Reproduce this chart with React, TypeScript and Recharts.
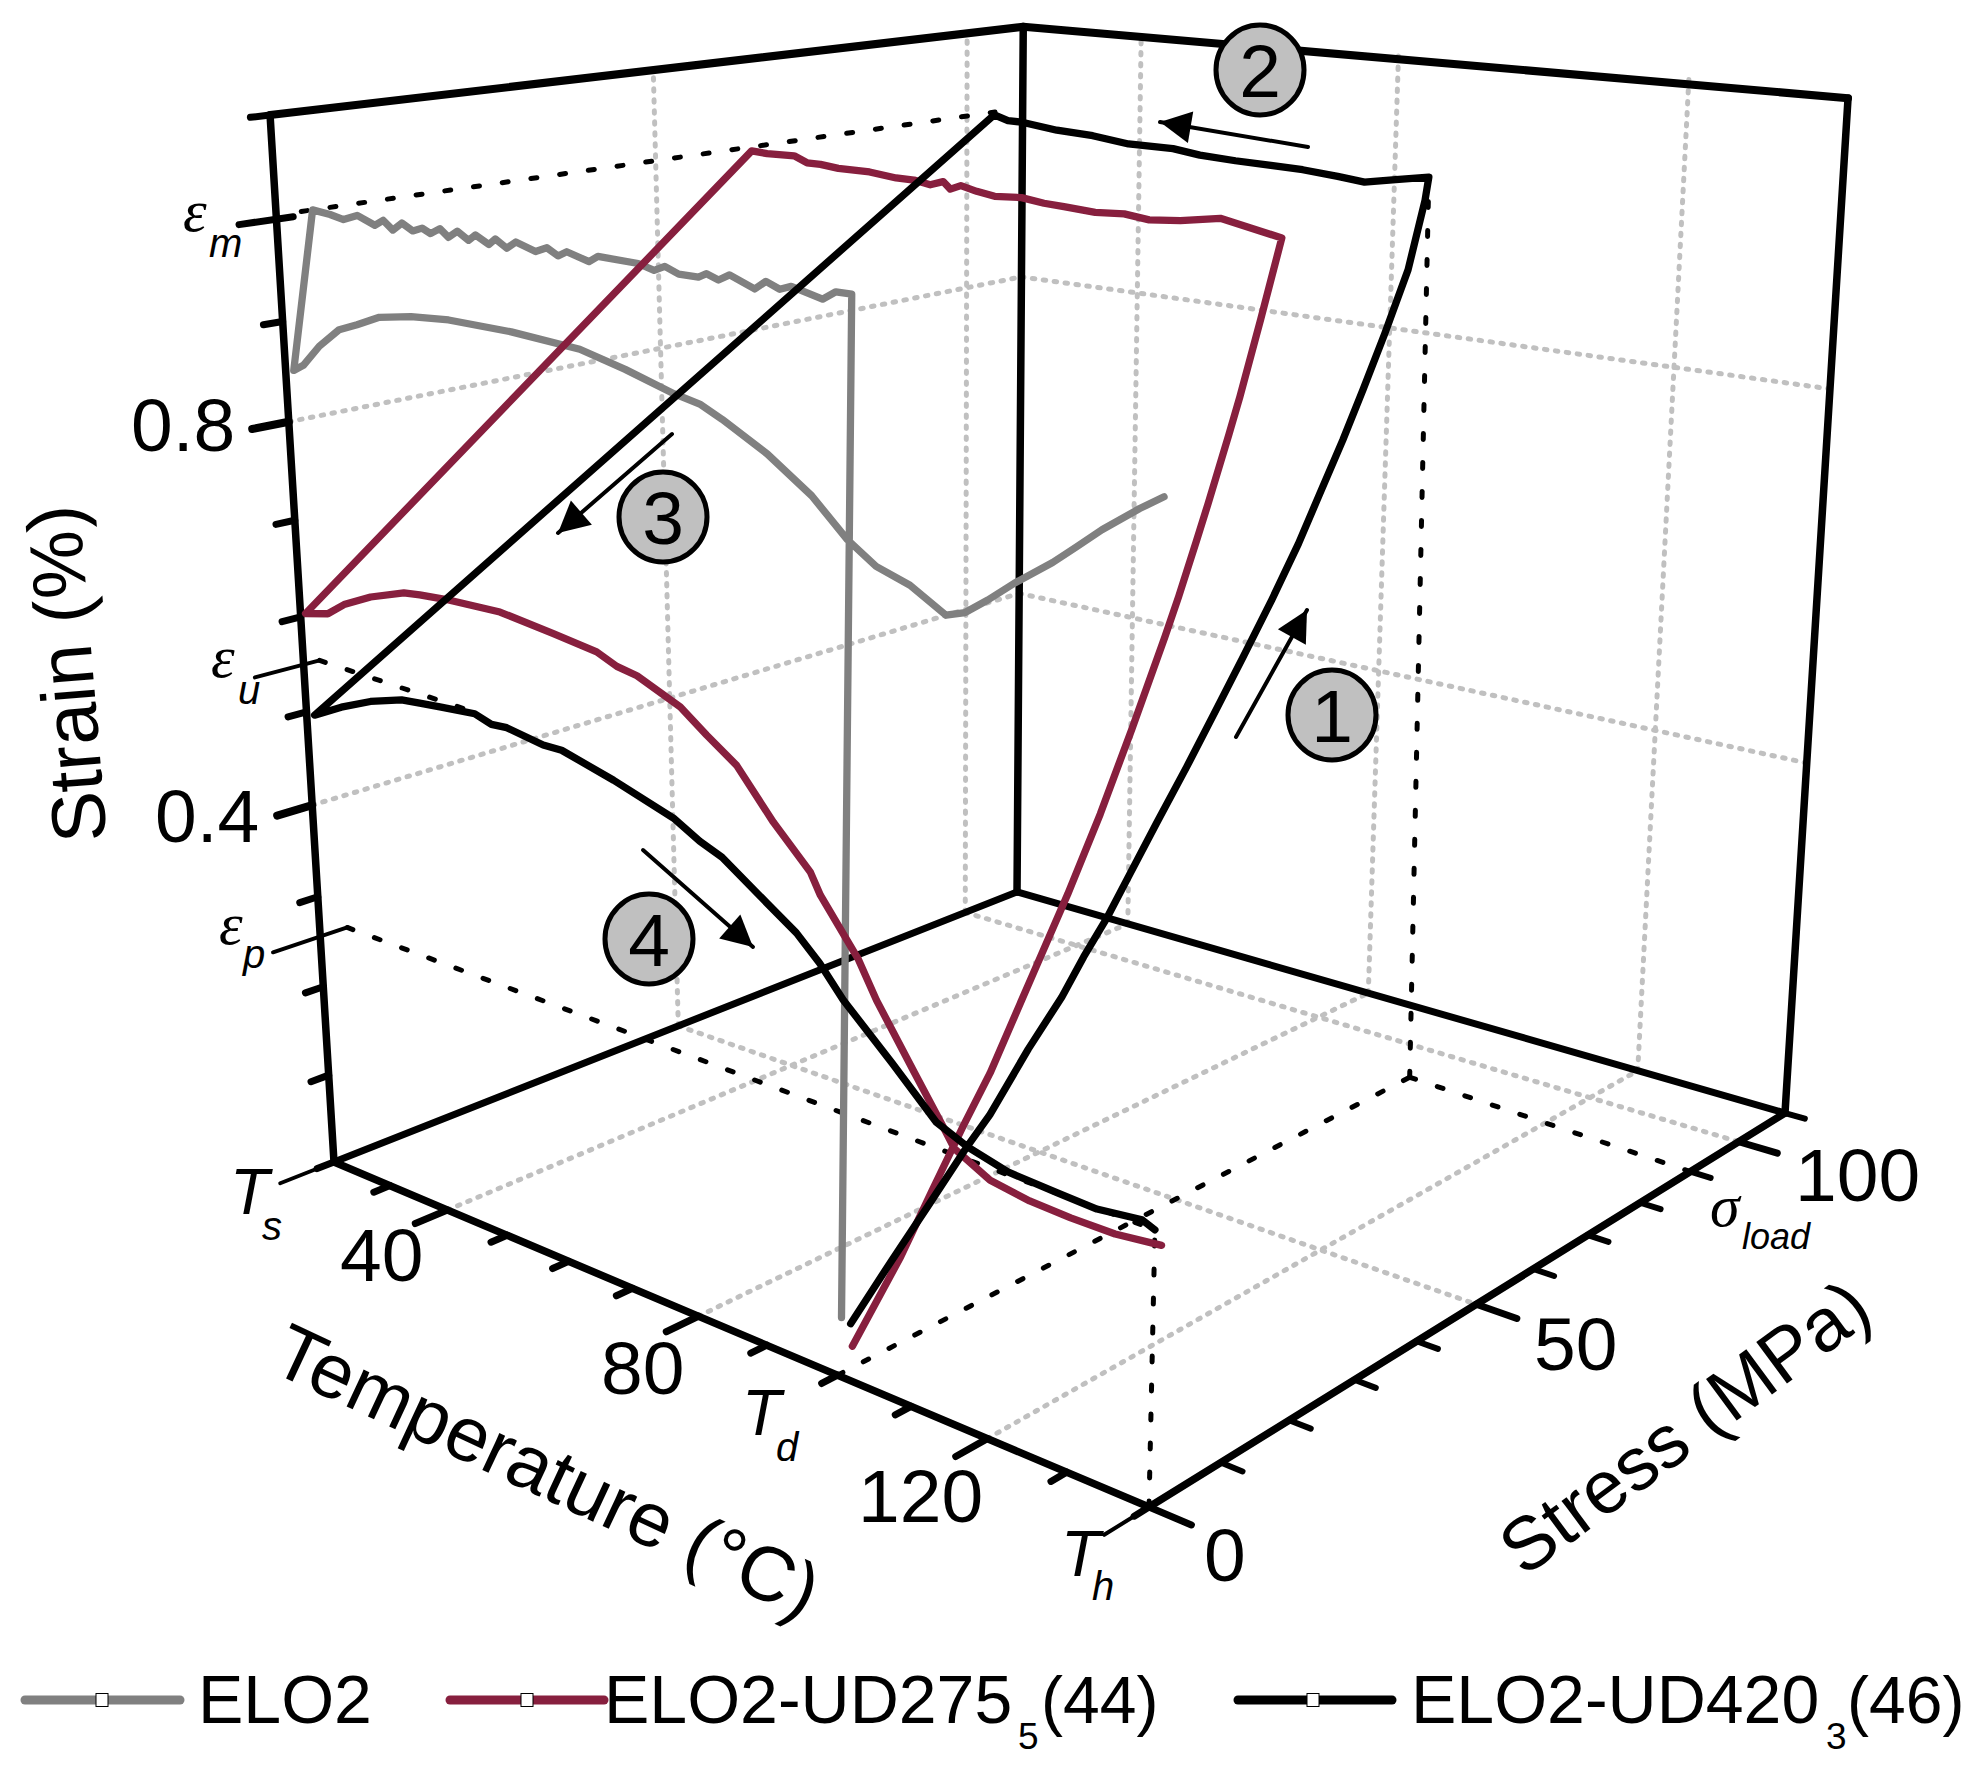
import React from 'react';
import { ScatterChart, Scatter, XAxis, YAxis } from 'recharts';

const W = 1978;
const H = 1765;
const FONT = '"Liberation Sans", Arial, sans-serif';
const SERIF = '"Liberation Serif", serif';

// every curve point is [temperature °C, stress MPa, strain %]
type P3 = number[];

const elo2Load: P3[] = [[100, 0.6, 0.057], [100, 3.1, 1.003]];
const elo2Cool: P3[] = [[98, 3.1, 1.003], [96.3, 3.1, 0.995], [92.3, 3.1, 1.002], [90.8, 3.1, 0.998], [89, 3.1, 1.003], [87.5, 3.1, 0.995], [84.2, 3.1, 1.004], [82.7, 3.1, 0.998], [81.1, 3.1, 1.002], [80, 3.1, 0.998], [77.3, 3.1, 0.998], [75.4, 3.1, 1.003], [73.9, 3.1, 0.998], [71.7, 3.1, 1.002], [66, 3.1, 1.003], [64.7, 3.1, 0.997], [61.5, 3.1, 1.003], [60.2, 3.1, 0.998], [58.6, 3.1, 1.004], [56.9, 3.1, 0.999], [54, 3.1, 1.005], [52.6, 3.1, 0.998], [50.9, 3.1, 1.005], [49.9, 3.1, 0.999], [47.9, 3.1, 1.006], [46.8, 3.1, 1], [45.1, 3.1, 1.007], [43.7, 3.1, 1], [42.4, 3.1, 1.007], [40.9, 3.1, 1.001], [39.6, 3.1, 1.005], [38.1, 3.1, 1.001], [36.4, 3.1, 1.007], [34.9, 3.1, 0.999], [33.4, 3.1, 1.007], [32, 3.1, 1.001], [29.2, 3.1, 1.008], [26.9, 3.1, 1.002], [24.7, 3.1, 1.005], [21.8, 3.1, 1.007]];
const elo2Heat: P3[] = [[21.4, 0, 0.853], [23.1, 0, 0.86], [26, 0, 0.882], [29.5, 0, 0.902], [32.5, 0, 0.91], [36.2, 0, 0.921], [41.3, 0, 0.927], [47.2, 0, 0.93], [56.7, 0, 0.929], [66.7, 0, 0.924], [73.1, 0, 0.913], [79.8, 0, 0.899], [83.3, 0, 0.894], [86.3, 0, 0.884], [92.2, 0, 0.861], [97.9, 0, 0.832], [102.4, 0, 0.8], [106, 0, 0.782], [110.2, 0, 0.772], [114.6, 0, 0.753], [116.9, 0, 0.759], [119.6, 0, 0.774], [122.7, 0, 0.793], [127.1, 0, 0.817], [129.8, 0, 0.834], [132.6, 0, 0.852], [136.7, 0, 0.875], [139.3, 0, 0.888]];

const ud275Load: P3[] = [[100, 2, 0.022], [100, 8.6, 0.089], [100, 12.9, 0.141], [100, 17.3, 0.193], [100, 21.1, 0.235], [100, 25.6, 0.296], [100, 27.3, 0.319], [100, 32.2, 0.385], [100, 36.9, 0.454], [100, 41.5, 0.529], [100, 46.3, 0.611], [100, 48.3, 0.647], [100, 50.9, 0.698], [100, 52.6, 0.732], [100, 55.6, 0.795], [100, 57.2, 0.83], [100, 60.2, 0.902], [100, 63.2, 0.977]];
const ud275Cool: P3[] = [[91.4, 63.7, 0.988], [86, 63.7, 0.981], [81.7, 63.7, 0.978], [78.2, 63.7, 0.981], [74.1, 63.7, 0.979], [69.6, 63.7, 0.981], [66.7, 63.7, 0.982], [63.4, 63.7, 0.985], [59.4, 63.7, 0.983], [56.7, 63.7, 0.986], [54.3, 63.7, 0.99], [52.7, 63.7, 0.985], [51.6, 63.7, 0.992], [49.6, 63.7, 0.987], [47.1, 63.7, 0.99], [44.3, 63.7, 0.99], [40.1, 63.7, 0.993], [35.1, 63.7, 0.993], [32.2, 63.7, 0.995], [30, 63.7, 0.995], [27.9, 63.7, 1.001], [23.4, 63.7, 1], [20.8, 63.7, 1.001]];
const ud275Heat: P3[] = [[20.9, 0, 0.605], [24.8, 0, 0.611], [27.7, 0, 0.625], [32.3, 0, 0.64], [37.9, 0, 0.653], [40.5, 0, 0.655], [44.8, 0, 0.657], [53.2, 0, 0.658], [61.3, 0, 0.65], [67.7, 0, 0.643], [70.6, 0, 0.634], [73.5, 0, 0.63], [79.6, 0, 0.611], [83.2, 0, 0.591], [87.3, 0, 0.57], [92.2, 0, 0.526], [97.1, 0, 0.489], [98.4, 0, 0.47], [103.3, 0, 0.421], [105.7, 0, 0.387], [110.6, 0, 0.33], [114, 0, 0.291], [115.7, 0, 0.271], [120.2, 0, 0.253], [125.1, 0, 0.247], [130.1, 0, 0.245], [135.4, 0, 0.245], [140.8, 0, 0.25]];

const ud420Load: P3[] = [[100, 1.8, 0.046], [100, 7.4, 0.09], [100, 12.3, 0.127], [100, 17.6, 0.168], [100, 21.1, 0.192], [100, 26.6, 0.242], [100, 31.5, 0.281], [100, 34.7, 0.313], [100, 38.1, 0.343], [100, 41.6, 0.38], [100, 45.6, 0.422], [100, 50.2, 0.469], [100, 54.3, 0.513], [100, 58.9, 0.563], [100, 63.4, 0.613], [100, 67.6, 0.663], [100, 70.9, 0.708], [100, 74.6, 0.758], [100, 77.8, 0.805], [100, 81.2, 0.857], [100, 84.9, 0.918], [100, 87.4, 0.986], [100, 87.9, 1.009]];
const ud420Cool: P3[] = [[95.6, 87.9, 1.003], [91.4, 87.9, 0.997], [87.7, 87.9, 1], [82.8, 87.9, 1.003], [78.3, 87.9, 1.004], [73.2, 87.9, 1.005], [68, 87.9, 1.007], [64, 87.9, 1.011], [57.3, 87.9, 1.011], [51.8, 87.9, 1.016], [46.2, 87.9, 1.018], [40.5, 87.9, 1.023], [38.4, 87.9, 1.023], [36.2, 87.9, 1.028]];
const ud420Heat: P3[] = [[21.4, 0, 0.499], [26.2, 0, 0.516], [31.3, 0, 0.531], [36.6, 0, 0.542], [39.6, 0, 0.544], [42.9, 0, 0.546], [48.5, 0, 0.549], [51.1, 0, 0.543], [53.5, 0, 0.544], [59.1, 0, 0.537], [61.9, 0, 0.537], [69.6, 0, 0.522], [78.2, 0, 0.502], [81.9, 0, 0.487], [85, 0, 0.478], [91.1, 0, 0.447], [95.1, 0, 0.427], [98.2, 0, 0.405], [101.3, 0, 0.377], [107.7, 0, 0.332], [113.4, 0, 0.29], [117.4, 0, 0.277], [122.4, 0, 0.267], [128.4, 0, 0.264], [133.2, 0, 0.262], [138.5, 0, 0.267], [140, 0, 0.262]];

const tempMajor = [40, 80, 120];
const tempMinor = [30, 50, 60, 70, 90, 100, 110, 130];
const stressMajor = [0, 50, 100];
const stressMinor = [10, 20, 30, 40, 60, 70, 80, 90, 110];
const strainMajor = [0.4, 0.8];
const strainMinor = [0.1, 0.2, 0.3, 0.5, 0.6, 0.7, 0.9, 1.1];

const T_MIN = 20, T_MAX = 140, S_MAX = 110, E_MAX = 1.1;

// perspective of the 3D box, fitted on its corners
function project(T: number, S: number, E: number) {
  const t = (T - T_MIN) / (T_MAX - T_MIN);
  const s = S / S_MAX;
  const z = E / E_MAX;
  const w = 1 - 0.19146 * t + 0.21975 * s - 0.095 * z;
  return {
    x: (334 + 595 * t + 906.5 * s - 89.6 * z) / w,
    y: (1162 + 56.5 * t - 74 * s - 1057.9 * z) / w,
  };
}
const toXY = (pts: P3[]) => pts.map((p) => project(p[0], p[1], p[2]));

// the back wall leans a little more than the fit at the top
const backT = (T: number, E: number) => T - (T - T_MIN) * 0.0217 * (E / E_MAX);

const NoDot = () => null;
let uid = 0;
function path(pts: { x: number; y: number }[], stroke: string, width: number, dash?: string) {
  return (
    <Scatter
      key={'p' + uid++}
      data={pts}
      isAnimationActive={false}
      shape={NoDot as any}
      legendType="none"
      line={{ stroke, strokeWidth: width, strokeDasharray: dash, strokeLinecap: 'round', strokeLinejoin: 'round' } as any}
    />
  );
}
const path3 = (pts: P3[], stroke: string, width: number, dash?: string) => path(toXY(pts), stroke, width, dash);

const GRID = '#C0C0C0';
const GRID_DASH = '2.5 8.5';
const RED = '#871F3E';
const GREY = '#808080';
const BLACK = '#000000';
const DASH = '6 23';

const floorGrid: P3[][] = [
  ...tempMajor.map((T) => [[T, 0, 0], [T, S_MAX, 0]]),
  ...[50, 100].map((S) => [[T_MIN, S, 0], [T_MAX, S, 0]]),
];
const leftGrid: P3[][] = [
  ...[50, 100].map((S) => [[T_MIN, S, 0], [T_MIN, S, E_MAX]]),
  ...strainMajor.map((E) => [[T_MIN, 0, E], [T_MIN, S_MAX, E]]),
];
const backGrid: P3[][] = [
  ...tempMajor.map((T) => [[T, S_MAX, 0], [backT(T, E_MAX), S_MAX, E_MAX]]),
  ...strainMajor.map((E) => [[T_MIN, S_MAX, E], [backT(T_MAX, E), S_MAX, E]]),
];

const frame: [P3, P3, number][] = [
  [[T_MIN, 0, 0], [T_MIN, 0, E_MAX], 7.5],
  [[T_MIN, 0, 0], [T_MAX, 0, 0], 7.5],
  [[T_MAX, 0, 0], [T_MAX, S_MAX, 0], 7.5],
  [[T_MIN, 0, 0], [T_MIN, S_MAX, 0], 7],
  [[T_MIN, S_MAX, 0], [T_MAX, S_MAX, 0], 7],
  [[T_MIN, S_MAX, 0], [T_MIN, S_MAX, E_MAX], 7.5],
  [[T_MAX, S_MAX, 0], [backT(T_MAX, E_MAX), S_MAX, E_MAX - 0.007], 7.5],
  [[T_MIN, 0, E_MAX], [T_MIN, S_MAX, E_MAX], 8],
  [[T_MIN, S_MAX, E_MAX], [backT(T_MAX, E_MAX), S_MAX, E_MAX - 0.007], 8],
];

const ticks: [P3, P3, number][] = [
  ...strainMajor.map((E): [P3, P3, number] => [[T_MIN, -4.4, E], [T_MIN, 0, E], 8]),
  ...strainMinor.map((E): [P3, P3, number] => [[T_MIN, -2.3, E], [T_MIN, 0, E], 7]),
  [[T_MIN, -4.4, 1.0], [T_MIN, 2, 1.0], 7],
  [[T_MIN, -6, 0.55], [T_MIN, 2, 0.55], 4],
  [[T_MIN, -6, 0.256], [T_MIN, 3.5, 0.256], 4],
  ...tempMajor.map((T): [P3, P3, number] => [[T, 0, 0], [T, -4.2, 0], 7]),
  ...tempMinor.map((T): [P3, P3, number] => [[T, 0, 0], [T, -2.1, 0], 7]),
  [[T_MIN, 0, 0], [T_MIN, -2.2, 0], 7],
  [[T_MIN, 0, 0], [T_MIN, -7, 0], 4],
  [[T_MAX, 0, 0], [T_MAX, -2, 0], 7],
  [[T_MAX, 0, 0], [T_MAX, -6, 0], 4],
  ...stressMajor.map((S): [P3, P3, number] => [[T_MAX, S, 0], [T_MAX + 5, S, 0], 7]),
  ...stressMinor.map((S): [P3, P3, number] => [[T_MAX, S, 0], [T_MAX + 2.6, S, 0], 6]),
];

const guides: P3[][] = [
  [[T_MIN, 3, 1.004], [T_MIN, 105, 1.004]],
  [[T_MIN, 2, 0.55], [50, 0, 0.55]],
  [[T_MIN, 3.5, 0.256], [T_MAX, 0, 0.262]],
  [[100, 0, 0], [100, 92, 0]],
  [[T_MAX, 90, 0], [100, 92, 0]],
  [[100, 92, 0], [100, 87.9, 1.009]],
  [[T_MAX, 0, 0], [T_MAX, 0, 0.262]],
];

type Label = { x: number; y: number; text: string; size: number; rotate?: number; italic?: boolean; serif?: boolean; anchor?: string };

const labels: Label[] = [
  { x: 131, y: 451, text: '0.8', size: 75 },
  { x: 155, y: 842, text: '0.4', size: 75 },
  { x: 340, y: 1281, text: '40', size: 75 },
  { x: 601, y: 1394, text: '80', size: 75 },
  { x: 858, y: 1522, text: '120', size: 75 },
  { x: 1204, y: 1581, text: '0', size: 75 },
  { x: 1795, y: 1201, text: '100', size: 75 },
  { x: 1534, y: 1370, text: '50', size: 75 },
  { x: 93, y: 672, text: 'Strain (%)', size: 76, rotate: -94.7, anchor: 'middle' },
  { x: 268, y: 1370, text: 'Temperature (°C)', size: 77, rotate: 25 },
  { x: 1524, y: 1578, text: 'Stress (MPa)', size: 75, rotate: -36.5 },
  { x: 183, y: 231, text: 'ε', size: 60, italic: true, serif: true },
  { x: 209, y: 257, text: 'm', size: 40, italic: true },
  { x: 211, y: 677, text: 'ε', size: 60, italic: true, serif: true },
  { x: 238, y: 704, text: 'u', size: 40, italic: true },
  { x: 219, y: 944, text: 'ε', size: 60, italic: true, serif: true },
  { x: 243, y: 968, text: 'p', size: 40, italic: true },
  { x: 230, y: 1214, text: 'T', size: 64, italic: true },
  { x: 262, y: 1240, text: 's', size: 40, italic: true },
  { x: 742, y: 1435, text: 'T', size: 64, italic: true },
  { x: 776, y: 1461, text: 'd', size: 40, italic: true },
  { x: 1061, y: 1576, text: 'T', size: 64, italic: true },
  { x: 1092, y: 1600, text: 'h', size: 40, italic: true },
  { x: 1710, y: 1226, text: 'σ', size: 60, italic: true, serif: true },
  { x: 1742, y: 1249, text: 'load', size: 36, italic: true },
  { x: 198, y: 1723, text: 'ELO2', size: 68 },
  { x: 604, y: 1723, text: 'ELO2-UD275', size: 68 },
  { x: 1018, y: 1749, text: '5', size: 37 },
  { x: 1041, y: 1723, text: '(44)', size: 66 },
  { x: 1411, y: 1723, text: 'ELO2-UD420', size: 68 },
  { x: 1826, y: 1749, text: '3', size: 37 },
  { x: 1847, y: 1723, text: '(46)', size: 66 },
];

const LabelMark = (props: any) => {
  const { cx, cy, payload } = props;
  const l: Label = payload;
  return (
    <text
      x={cx}
      y={cy}
      fontSize={l.size}
      fontFamily={l.serif ? SERIF : FONT}
      fontStyle={l.italic ? 'italic' : 'normal'}
      textAnchor={l.anchor || 'start'}
      fill="#000"
      transform={l.rotate ? `rotate(${l.rotate} ${cx} ${cy})` : undefined}
    >
      {l.text}
    </text>
  );
};

const badges = [
  { x: 1332, y: 715, text: '1' },
  { x: 1260, y: 70, text: '2' },
  { x: 663, y: 517, text: '3' },
  { x: 649, y: 939, text: '4' },
];

const BadgeMark = (props: any) => {
  const { cx, cy, payload } = props;
  return (
    <g>
      <ellipse cx={cx} cy={cy} rx={44} ry={45} fill={GRID} stroke="#000" strokeWidth={5} />
      <text x={cx} y={cy + 27} fontSize={75} fontFamily={FONT} textAnchor="middle" fill="#000">
        {payload.text}
      </text>
    </g>
  );
};

const arrows = [
  [{ x: 1236, y: 737 }, { x: 1307, y: 610 }],
  [{ x: 1308, y: 147 }, { x: 1160, y: 122 }],
  [{ x: 672, y: 434 }, { x: 558, y: 533 }],
  [{ x: 643, y: 850 }, { x: 753, y: 947 }],
];

function arrowHead(from: { x: number; y: number }) {
  // draws the head on the second point only, pointing away from the tail
  return (props: any) => {
    const { cx, cy, payload } = props;
    if (payload.x === from.x && payload.y === from.y) return null;
    const a = Math.atan2(payload.y - from.y, payload.x - from.x);
    const L = 31, B = 16;
    const bx = cx - L * Math.cos(a), by = cy - L * Math.sin(a);
    const nx = -Math.sin(a) * B, ny = Math.cos(a) * B;
    return <polygon points={`${cx},${cy} ${bx + nx},${by + ny} ${bx - nx},${by - ny}`} fill="#000" />;
  };
}

const legendKeys = [
  { color: GREY, from: 25, mid: 102, to: 180 },
  { color: RED, from: 450, mid: 527, to: 604 },
  { color: BLACK, from: 1238, mid: 1313, to: 1392 },
];
const LEGEND_Y = 1700;

const KeyMark = (props: any) => {
  const { cx, cy, payload } = props;
  if (!payload.mid) return null;
  return <rect x={cx - 6} y={cy - 6.5} width={12} height={13} fill="#fff" stroke="#000" strokeWidth={1} />;
};

export default function App() {
  return (
    <div style={{ position: 'absolute', left: 0, top: 0, width: W, height: H, background: '#fff' }}>
      <ScatterChart width={W} height={H} margin={{ top: 0, right: 0, bottom: 0, left: 0 }}>
        <XAxis type="number" dataKey="x" domain={[0, W]} hide allowDataOverflow />
        <YAxis type="number" dataKey="y" domain={[0, H]} reversed hide allowDataOverflow />

        {[...floorGrid, ...leftGrid, ...backGrid].map((g) => path3(g, GRID, 5, GRID_DASH))}
        {frame.map((f) => path3([f[0], f[1]], BLACK, f[2]))}
        {ticks.map((f) => path3([f[0], f[1]], BLACK, f[2]))}
        {guides.map((g) => path3(g, BLACK, 5, DASH))}

        {path3([...elo2Load, ...elo2Cool, ...elo2Heat], GREY, 7.3)}
        {path3([...ud275Load, ...ud275Cool, ...ud275Heat], RED, 7.3)}
        {path3([...ud420Load, ...ud420Cool, ...ud420Heat], BLACK, 7.3)}

        {arrows.map((a, i) => (
          <Scatter
            key={'a' + i}
            data={a}
            isAnimationActive={false}
            legendType="none"
            shape={arrowHead(a[0]) as any}
            line={{ stroke: BLACK, strokeWidth: 4, strokeLinecap: 'round' } as any}
          />
        ))}
        <Scatter data={badges} isAnimationActive={false} legendType="none" shape={BadgeMark as any} />

        {legendKeys.map((k, i) => (
          <Scatter
            key={'k' + i}
            data={[{ x: k.from, y: LEGEND_Y }, { x: k.mid, y: LEGEND_Y, mid: true }, { x: k.to, y: LEGEND_Y }]}
            isAnimationActive={false}
            legendType="none"
            shape={KeyMark as any}
            line={{ stroke: k.color, strokeWidth: 9, strokeLinecap: 'round' } as any}
          />
        ))}
        <Scatter data={labels} isAnimationActive={false} legendType="none" shape={LabelMark as any} />
      </ScatterChart>
    </div>
  );
}
